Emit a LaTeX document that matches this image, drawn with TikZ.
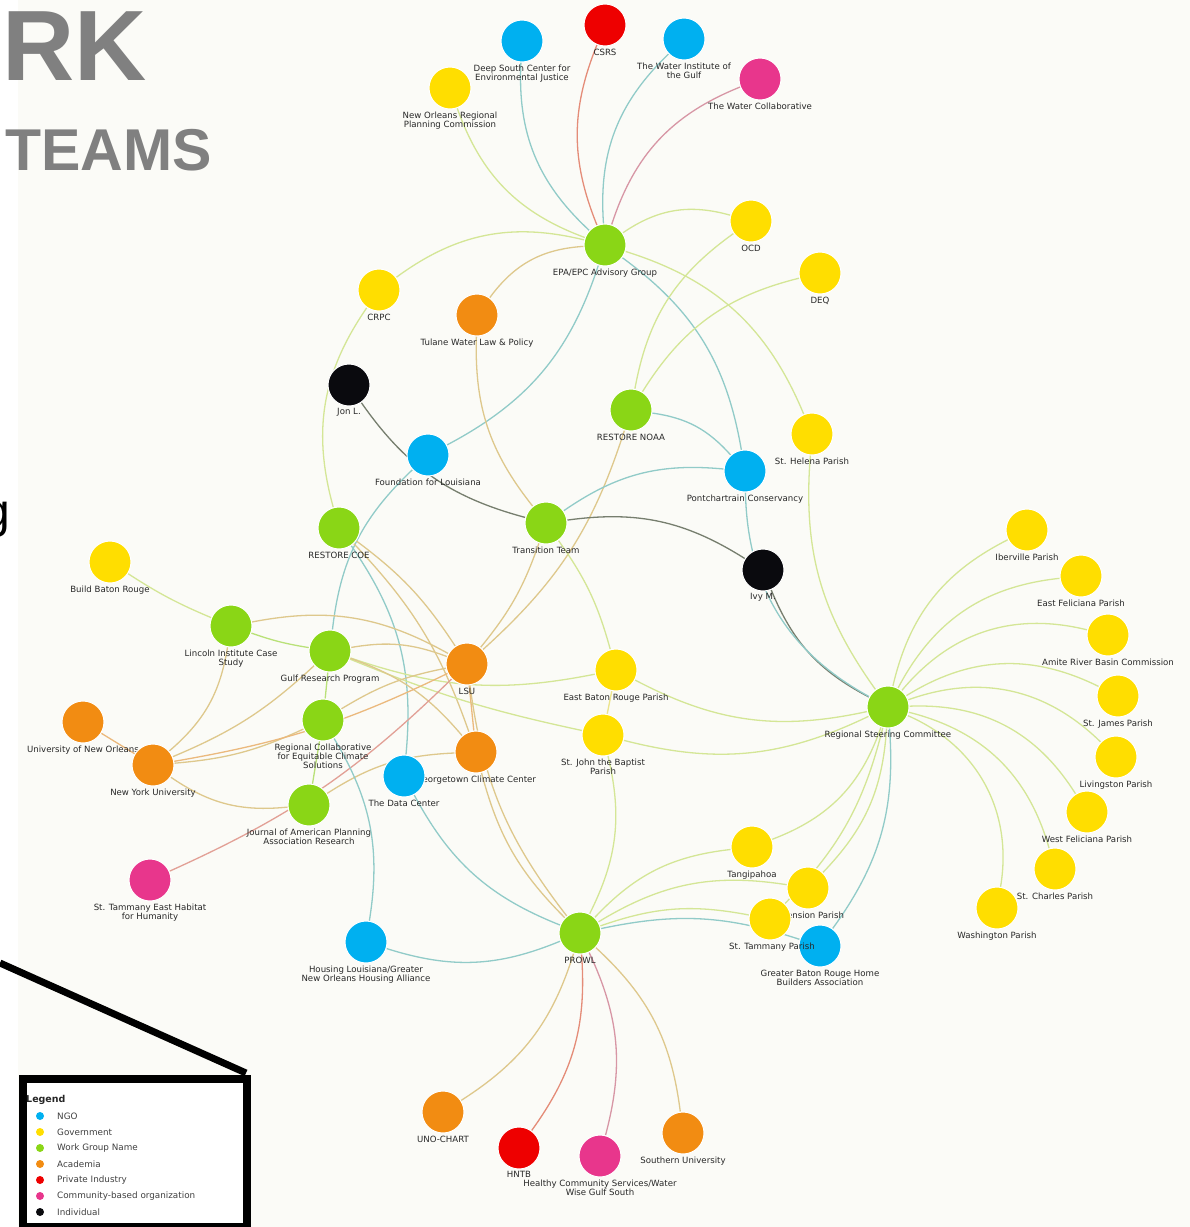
\documentclass[tikz,border=0pt]{standalone}
\usepackage{fontspec}
\setmainfont{DejaVu Sans}
\newfontfamily\titlef{Liberation Sans}
\definecolor{cNGO}{RGB}{0,176,240}
\definecolor{cGov}{RGB}{255,222,0}
\definecolor{cWG}{RGB}{138,214,22}
\definecolor{cAca}{RGB}{242,140,18}
\definecolor{cPri}{RGB}{238,0,0}
\definecolor{cCom}{RGB}{232,54,140}
\definecolor{cInd}{RGB}{10,10,14}
\definecolor{eGY}{RGB}{212,230,150}
\definecolor{eGG}{RGB}{185,225,120}
\definecolor{eGB}{RGB}{145,203,200}
\definecolor{eGO}{RGB}{222,200,140}
\definecolor{eGK}{RGB}{118,126,110}
\definecolor{eGR}{RGB}{228,140,120}
\definecolor{eGP}{RGB}{215,150,165}
\definecolor{eOO}{RGB}{235,185,125}
\definecolor{eOP}{RGB}{226,160,150}
\definecolor{eYY}{RGB}{236,228,140}
\definecolor{bgc}{RGB}{251,251,247}
\definecolor{titgray}{RGB}{128,128,128}
\definecolor{labc}{RGB}{40,40,40}
\pgfdeclarelayer{back}
\pgfdeclarelayer{edges}
\pgfsetlayers{back,edges,main}
\tikzset{
  nd/.style={circle, minimum size=42pt, inner sep=0pt, draw=white, line width=1pt, fill=#1},
  lab/.style={anchor=north, align=center, inner sep=0pt, text=labc, font=\fontsize{8.6}{9.2}\selectfont},
  ln/.style={draw=#1, line width=1.3pt},
  legdot/.style={circle, inner sep=0pt, minimum size=8pt, fill=#1},
  legtxt/.style={anchor=west, inner sep=0pt, text=black!75, font=\fontsize{8.8}{9}\selectfont}
}
\newcommand\NC[4]{\node[nd=#4] (#1) at (#2,-#3) {};}
\newcommand\NL[4]{\node[lab] (#1-l) at (#2,-#3-23.5) {#4};}
\newcommand\NN[5]{\NC{#1}{#2}{#3}{#4}\NL{#1}{#2}{#3}{#5}}
\begin{document}
\begin{tikzpicture}[x=1pt,y=1pt]
\useasboundingbox (0,0) rectangle (1190,-1227);
\begin{pgfonlayer}{back}
\fill[white] (0,0) rectangle (1190,-1227);
\fill[bgc] (18,0) rectangle (1190,-1227);
\end{pgfonlayer}
% nodes
\NN{deep}{522}{41}{cNGO}{Deep South Center for\\Environmental Justice}
\NN{csrs}{605}{25}{cPri}{CSRS}
\NN{wins}{684}{39}{cNGO}{The Water Institute of\\the Gulf}
\NN{wcol}{760}{79}{cCom}{The Water Collaborative}
\NN{norpc}{450}{88}{cGov}{New Orleans Regional\\Planning Commission}
\NN{epa}{605}{245}{cWG}{EPA/EPC Advisory Group}
\NN{ocd}{751}{221}{cGov}{OCD}
\NN{deq}{820}{273}{cGov}{DEQ}
\NN{crpc}{379}{290}{cGov}{CRPC}
\NN{tulane}{477}{315}{cAca}{Tulane Water Law \& Policy}
\NN{jon}{349}{385}{cInd}{Jon L.}
\NN{noaa}{631}{410}{cWG}{RESTORE NOAA}
\NN{sthel}{812}{434}{cGov}{St. Helena Parish}
\NN{fdn}{428}{455}{cNGO}{Foundation for Louisiana}
\NN{pont}{745}{471}{cNGO}{Pontchartrain Conservancy}
\NN{coe}{339}{528}{cWG}{RESTORE COE}
\NN{tt}{546}{523}{cWG}{Transition Team}
\NN{ivy}{763}{570}{cInd}{Ivy M.}
\NN{bbr}{110}{562}{cGov}{Build Baton Rouge}
\NN{linc}{231}{626}{cWG}{Lincoln Institute Case\\Study}
\NN{gulf}{330}{651}{cWG}{Gulf Research Program}
\NN{lsu}{467}{664}{cAca}{LSU}
\NN{ebr}{616}{670}{cGov}{East Baton Rouge Parish}
\NN{rsc}{888}{707}{cWG}{Regional Steering Committee}
\NN{uno}{83}{722}{cAca}{University of New Orleans}
\NN{rc}{323}{720}{cWG}{Regional Collaborative\\for Equitable Climate\\Solutions}
\NN{nyu}{153}{765}{cAca}{New York University}
\NN{stj}{603}{735}{cGov}{St. John the Baptist\\Parish}
\NN{gcc}{476}{752}{cAca}{Georgetown Climate Center}
\NN{dc}{404}{776}{cNGO}{The Data Center}
\NN{jour}{309}{805}{cWG}{Journal of American Planning\\Association Research}
\NN{steh}{150}{880}{cCom}{St. Tammany East Habitat\\for Humanity}
\NN{tangi}{752}{847}{cGov}{Tangipahoa}
\NN{asc}{808}{888}{cGov}{Ascension Parish}
\NC{stt}{770}{919}{cGov}
\NC{gbr}{820}{946}{cNGO}
\NL{stt}{772}{919}{St. Tammany Parish}
\NL{gbr}{820}{946}{Greater Baton Rouge Home\\Builders Association}
\NN{prowl}{580}{933}{cWG}{PROWL}
\NN{hous}{366}{942}{cNGO}{Housing Louisiana/Greater\\New Orleans Housing Alliance}
\NN{unoc}{443}{1112}{cAca}{UNO-CHART}
\NN{hntb}{519}{1148}{cPri}{HNTB}
\NN{hcs}{600}{1156}{cCom}{Healthy Community Services/Water\\Wise Gulf South}
\NN{south}{683}{1133}{cAca}{Southern University}
\NN{iber}{1027}{530}{cGov}{Iberville Parish}
\NN{efel}{1081}{576}{cGov}{East Feliciana Parish}
\NN{amite}{1108}{635}{cGov}{Amite River Basin Commission}
\NN{stjam}{1118}{696}{cGov}{St. James Parish}
\NN{liv}{1116}{757}{cGov}{Livingston Parish}
\NN{wfel}{1087}{812}{cGov}{West Feliciana Parish}
\NN{stch}{1055}{869}{cGov}{St. Charles Parish}
\NN{wash}{997}{908}{cGov}{Washington Parish}
% edges
\begin{pgfonlayer}{edges}
\draw[ln=eGY] (norpc) to[bend right=25] (epa);
\draw[ln=eGB] (deep) to[bend right=25] (epa);
\draw[ln=eGR] (csrs) to[bend right=22] (epa);
\draw[ln=eGB] (wins) to[bend right=25] (epa);
\draw[ln=eGP] (wcol) to[bend right=25] (epa);
\draw[ln=eGY] (epa) to[bend left=25] (ocd);
\draw[ln=eGY] (crpc) to[bend left=25] (epa);
\draw[ln=eGO] (tulane) to[bend left=25] (epa);
\draw[ln=eGB] (epa) to[bend left=22] (fdn);
\draw[ln=eGB] (epa) to[bend left=22] (pont);
\draw[ln=eGY] (epa) to[bend left=25] (sthel);
\draw[ln=eGY] (ocd) to[bend right=22] (noaa);
\draw[ln=eGY] (deq) to[bend right=22] (noaa);
\draw[ln=eGB] (noaa) to[bend left=20] (pont);
\draw[ln=eGO] (noaa) to[bend left=15] (lsu);
\draw[ln=eGY] (crpc) to[bend right=25] (coe);
\draw[ln=eGK] (jon) to[bend right=20] (tt);
\draw[ln=eGO] (tulane) to[bend right=20] (tt);
\draw[ln=eGB] (tt) to[bend left=20] (pont);
\draw[ln=eGK] (tt) to[bend left=20] (ivy);
\draw[ln=eGO] (tt) to[bend left=10] (lsu);
\draw[ln=eGY] (tt) to[bend left=10] (ebr);
\draw[ln=eGB] (fdn) to[bend right=20] (gulf);
\draw[ln=eGO] (coe) to[bend left=10] (lsu);
\draw[ln=eGB] (coe) to[bend left=20] (dc);
\draw[ln=eGO] (coe) to[bend left=12] (gcc);
\draw[ln=eGG] (linc) to[bend right=5] (gulf);
\draw[ln=eGO] (linc) to[bend left=20] (lsu);
\draw[ln=eGO] (gulf) to[bend left=15] (lsu);
\draw[ln=eGY] (gulf) to[bend right=15] (ebr);
\draw[ln=eGY] (gulf) to[bend right=5] (stj);
\draw[ln=eGO] (gulf) to[bend left=15] (gcc);
\draw[ln=eGG] (gulf) -- (rc);
\draw[ln=eGO] (rc) to[bend left=10] (lsu);
\draw[ln=eGO] (nyu) to[bend right=10] (gulf);
\draw[ln=eGO] (nyu) to[bend right=10] (rc);
\draw[ln=eOO] (nyu) to[bend right=8] (lsu);
\draw[ln=eGO] (nyu) to[bend right=20] (jour);
\draw[ln=eGO] (nyu) to[bend right=20] (linc);
\draw[ln=eOO] (uno) -- (nyu);
\draw[ln=eGY] (bbr) to[bend right=5] (linc);
\draw[ln=eGO] (jour) to[bend left=15] (gcc);
\draw[ln=eGG] (jour) -- (rc);
\draw[ln=eOP] (steh) to[bend right=10] (lsu);
\draw[ln=eGB] (rc) to[bend left=20] (hous);
\draw[ln=eOO] (lsu) -- (gcc);
\draw[ln=eGB] (prowl) to[bend left=20] (hous);
\draw[ln=eGB] (prowl) to[bend left=20] (dc);
\draw[ln=eGO] (prowl) to[bend left=15] (gcc);
\draw[ln=eGO] (prowl) to[bend left=15] (lsu);
\draw[ln=eGY] (prowl) to[bend right=20] (stj);
\draw[ln=eGY] (prowl) to[bend left=20] (tangi);
\draw[ln=eGY] (prowl) to[bend left=20] (asc);
\draw[ln=eGY] (prowl) to[bend left=15] (stt);
\draw[ln=eGB] (prowl) to[bend left=15] (gbr);
\draw[ln=eGO] (prowl) to[bend left=20] (unoc);
\draw[ln=eGR] (prowl) to[bend left=20] (hntb);
\draw[ln=eGP] (prowl) to[bend left=20] (hcs);
\draw[ln=eGO] (prowl) to[bend left=20] (south);
\draw[ln=eGY] (rsc) to[bend left=25] (iber);
\draw[ln=eGY] (rsc) to[bend left=28] (efel);
\draw[ln=eGY] (rsc) to[bend left=32] (amite);
\draw[ln=eGY] (rsc) to[bend left=29] (stjam);
\draw[ln=eGY] (rsc) to[bend left=32] (liv);
\draw[ln=eGY] (rsc) to[bend left=30] (wfel);
\draw[ln=eGY] (rsc) to[bend left=30] (stch);
\draw[ln=eGY] (rsc) to[bend left=38] (wash);
\draw[ln=eGB] (rsc) to[bend left=20] (gbr);
\draw[ln=eGY] (rsc) to[bend left=20] (asc);
\draw[ln=eGY] (rsc) to[bend left=15] (stt);
\draw[ln=eGY] (rsc) to[bend left=25] (tangi);
\draw[ln=eGY] (ebr) to[bend right=20] (rsc);
\draw[ln=eGY] (stj) to[bend right=20] (rsc);
\draw[ln=eGK] (ivy) to[bend right=20] (rsc);
\draw[ln=eGB] (pont) to[bend right=30] (rsc);
\draw[ln=eGY] (sthel) to[bend right=20] (rsc);
\draw[ln=eYY] (ebr) -- (stj);
\end{pgfonlayer}
% title fragments
\node[font=\titlef\bfseries\fontsize{100}{100}\selectfont, text=titgray, anchor=base east, inner sep=0pt] (rk) at (147,-80) {RK};
\node[font=\titlef\bfseries\fontsize{59}{59}\selectfont, text=titgray, anchor=base west, inner sep=0pt] (teams) at (5,-170) {TEAMS};
\node[font=\titlef\fontsize{48}{48}\selectfont, text=black, anchor=base east, inner sep=0pt] (gfrag) at (10,-527) {g};
% callout line and legend
\coordinate (lstart) at (0,-963);
\coordinate (lend) at (246,-1073);
\draw[line width=7pt] (lstart) -- (lend);
\node[draw=black, line width=8pt, fill=white, minimum width=224pt, minimum height=148pt, inner sep=0pt, anchor=north west] (legbox) at (19,-1075) {};
\node[anchor=west, inner sep=0pt, text=black!85, font=\bfseries\fontsize{9.5}{10}\selectfont] (legt) at (26,-1100) {Legend};
\node[legdot=cNGO] (d1) at (40,-1116) {}; \node[legtxt] (t1) at (57,-1116) {NGO};
\node[legdot=cGov] (d2) at (40,-1132) {}; \node[legtxt] (t2) at (57,-1132) {Government};
\node[legdot=cWG] (d3) at (40,-1148) {}; \node[legtxt] (t3) at (57,-1148) {Work Group Name};
\node[legdot=cAca] (d4) at (40,-1164) {}; \node[legtxt] (t4) at (57,-1164) {Academia};
\node[legdot=cPri] (d5) at (40,-1180) {}; \node[legtxt] (t5) at (57,-1180) {Private Industry};
\node[legdot=cCom] (d6) at (40,-1196) {}; \node[legtxt] (t6) at (57,-1196) {Community-based organization};
\node[legdot=cInd] (d7) at (40,-1212) {}; \node[legtxt] (t7) at (57,-1212) {Individual};
\end{tikzpicture}
\end{document}
